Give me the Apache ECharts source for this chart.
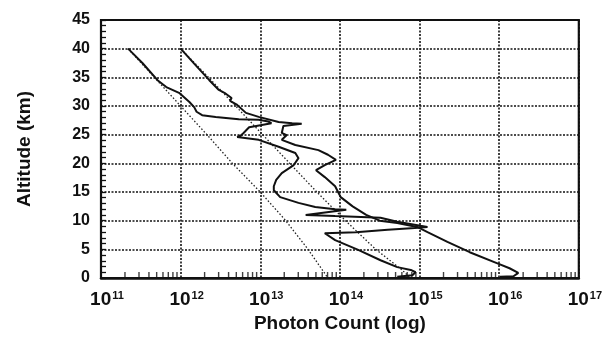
<!DOCTYPE html>
<html>
<head>
<meta charset="utf-8">
<script src="https://cdn.jsdelivr.net/npm/echarts@6/dist/echarts.min.js"></script>
<style>
  html, body { margin: 0; padding: 0; background: #fff; }
  #main { width: 605px; height: 339px; }
</style>
</head>
<body>
<div id="main"></div>
<script>
// photon counts are kept as log10 exponents, altitudes in km
const profile1Exp = [11.34, 11.52, 11.71, 11.82, 11.98, 12.11, 12.17, 12.20, 12.27, 12.44, 12.73, 12.98, 13.10, 13.14,
  13.02, 12.86, 12.79, 12.76, 12.71, 12.98, 13.23, 13.44, 13.48, 13.42, 13.27, 13.20, 13.17, 13.17, 13.25, 13.48,
  13.69, 13.94, 14.08, 13.57, 13.94, 14.51, 14.72, 15.01, 15.10, 14.94, 14.60, 14.20, 13.81, 13.94, 14.23, 14.51,
  14.72, 14.89, 14.95, 14.91, 14.72];
const profile1Alt = [40.0, 37.5, 34.5, 33.3, 32.3, 30.7, 29.8, 29.0, 28.4, 28.1, 27.7, 27.6, 27.3, 27.0,
  26.7, 26.3, 25.3, 24.9, 24.6, 24.1, 22.9, 21.8, 20.9, 19.7, 18.3, 17.1, 16.0, 15.3, 14.1, 13.1,
  12.4, 12.0, 11.9, 11.0, 10.8, 10.5, 9.8, 9.1, 8.9, 8.7, 8.4, 8.0, 7.8, 6.6, 4.9, 3.1,
  1.9, 1.4, 1.0, 0.5, 0.2];

const profile2Exp = [12.00, 12.17, 12.36, 12.48, 12.55, 12.64, 12.62, 12.70, 12.82, 12.98, 13.23, 13.40, 13.52, 13.29,
  13.27, 13.33, 13.27, 13.44, 13.73, 13.85, 13.95, 13.81, 13.70, 13.81, 13.94, 14.01, 14.16, 14.33, 14.50,
  14.72, 14.97, 15.10, 15.35, 15.63, 15.97, 16.13, 16.24, 16.18, 16.01];
const profile2Alt = [40.0, 37.4, 34.5, 32.8, 32.3, 31.4, 30.9, 30.3, 28.8, 28.1, 27.2, 27.0, 26.9, 26.5,
  25.3, 24.9, 24.1, 23.2, 22.3, 21.5, 20.6, 19.7, 18.8, 17.6, 16.0, 14.1, 12.5, 11.0, 10.0,
  9.6, 8.9, 8.0, 6.3, 4.5, 2.6, 1.7, 0.9, 0.3, 0.2];

const model1Exp = [11.34, 11.67, 12.00, 12.33, 12.65, 13.00, 13.32, 13.60, 13.85];
const model1Alt = [40, 35, 30, 25, 20, 15, 10, 5, 0];

const model2Exp = [12.00, 12.35, 12.69, 13.03, 13.37, 13.71, 14.07, 14.45, 14.78, 14.87];
const model2Alt = [40, 35, 30, 25, 20, 15, 10, 5, 1.4, 0.2];

const decades = [11, 12, 13, 14, 15, 16];
const minorSteps = [2, 3, 4, 5, 6, 7, 8, 9];

const FONT = "'Liberation Sans', Arial, sans-serif";
const INK = "#111";

const toPoints = (exps, alts) => exps.map((e, i) => [Math.pow(10, e), alts[i]]);

let minorTicks = [];
decades.forEach((d) => {
  minorSteps.forEach((k) => {
    minorTicks.push([k * Math.pow(10, d), 0]);
  });
});

var chart = echarts.init(document.getElementById("main"));

const solid = { color: INK, width: 2 };
const dotted = { color: "#222", width: 1.3, type: [1.5, 2] };
const gridDots = { color: INK, width: 1.6, type: [2, 1.5] };

const option = {
  animation: false,
  grid: {
    left: 101,
    right: 22,
    top: 20,
    bottom: 61,
    show: true,
    borderColor: INK,
    borderWidth: 2.2,
  },
  xAxis: {
    type: "log",
    logBase: 10,
    min: 1e11,
    max: 1e17,
    splitNumber: 6,
    name: "Photon Count (log)",
    nameLocation: "middle",
    nameGap: 36,
    nameTextStyle: { fontFamily: FONT, fontWeight: "bold", fontSize: 19, color: INK },
    axisLine: { lineStyle: { color: INK, width: 2.5 } },
    axisTick: { show: false },
    splitLine: { show: true, lineStyle: gridDots },
    axisLabel: {
      margin: 11,
      padding: [0, 0, 0, 12],
      formatter: (v) => "{b|10}{s|" + Math.round(Math.log10(v)) + "}",
      rich: {
        b: { fontFamily: FONT, fontWeight: "bold", fontSize: 19, color: INK, lineHeight: 22 },
        s: { fontFamily: FONT, fontWeight: "bold", fontSize: 11, color: INK, padding: [0, 0, 9, 1] },
      },
    },
  },
  yAxis: {
    type: "value",
    min: 0,
    max: 45,
    interval: 5,
    name: "Altitude (km)",
    nameLocation: "middle",
    nameGap: 67,
    nameTextStyle: { fontFamily: FONT, fontWeight: "bold", fontSize: 19, color: INK },
    axisLine: { show: true, lineStyle: { color: INK, width: 2 } },
    axisTick: { show: true, inside: true, length: 5, lineStyle: { color: INK, width: 1.3 } },
    minorTick: { show: true, splitNumber: 5, length: 5, lineStyle: { color: INK, width: 1.3 } },
    splitLine: { show: true, lineStyle: gridDots },
    axisLabel: {
      margin: 11,
      fontFamily: FONT,
      fontWeight: "bold",
      fontSize: 16,
      color: INK,
    },
  },
  series: [
    {
      type: "scatter",
      data: minorTicks,
      symbol: "rect",
      symbolSize: [1.4, 6],
      symbolOffset: [0, -3],
      itemStyle: { color: INK },
      silent: true,
      z: 1,
    },
    {
      name: "model 1",
      type: "line",
      data: toPoints(model1Exp, model1Alt),
      showSymbol: false,
      lineStyle: dotted,
    },
    {
      name: "model 2",
      type: "line",
      data: toPoints(model2Exp, model2Alt),
      showSymbol: false,
      lineStyle: dotted,
    },
    {
      name: "profile 1",
      type: "line",
      data: toPoints(profile1Exp, profile1Alt),
      showSymbol: false,
      lineStyle: solid,
    },
    {
      name: "profile 2",
      type: "line",
      data: toPoints(profile2Exp, profile2Alt),
      showSymbol: false,
      lineStyle: solid,
    },
  ],
};

chart.setOption(option);
</script>
</body>
</html>
